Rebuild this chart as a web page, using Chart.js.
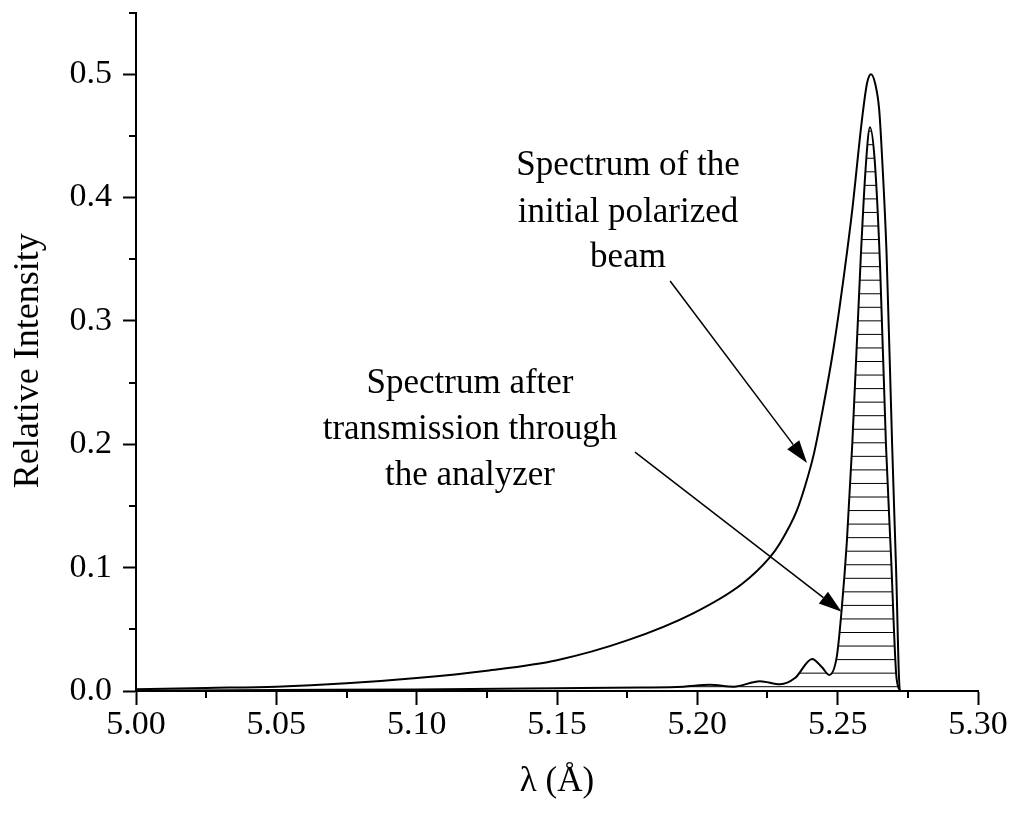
<!DOCTYPE html>
<html>
<head>
<meta charset="utf-8">
<title>Relative Intensity</title>
<script src="https://cdn.jsdelivr.net/npm/chart.js@4.4.0/dist/chart.umd.min.js"></script>
<style>
  html, body { margin: 0; padding: 0; background: #fff; }
  #wrap { width: 1015px; height: 817px; }
</style>
</head>
<body>
<div id="wrap"><canvas id="chart" width="1015" height="817"></canvas></div>
<script>
// values: wavelength (Å) -> relative intensity
const beamLambda = [5.000, 5.025, 5.050, 5.075, 5.100, 5.125, 5.150, 5.175, 5.1985, 5.216, 5.2259, 5.2295, 5.2354,
  5.2385, 5.2415, 5.245, 5.2484, 5.2523, 5.2552, 5.2586, 5.2605, 5.2619, 5.2634, 5.2648, 5.2660, 5.2674, 5.2694,
  5.2708, 5.2722, 5.275, 5.300];
const beamIntensity = [0.0015, 0.0025, 0.0035, 0.0062, 0.0105, 0.0165, 0.025, 0.041, 0.063, 0.087, 0.1086, 0.12, 0.146,
  0.167, 0.192, 0.232, 0.276, 0.338, 0.39, 0.462, 0.493, 0.50, 0.492, 0.471, 0.425, 0.356, 0.20,
  0.10, 0.0, 0.0, 0.0];

const analyzerLambda = [5.000, 5.050, 5.100, 5.150, 5.180, 5.195, 5.2045, 5.213, 5.2223, 5.2295, 5.2348, 5.2409,
  5.2445, 5.247, 5.2497, 5.2515, 5.2533, 5.2552, 5.2582, 5.2600, 5.2615, 5.2632, 5.2651, 5.2672, 5.2690, 5.2708,
  5.2718, 5.2725, 5.300];
const analyzerIntensity = [0.0003, 0.0008, 0.0013, 0.0022, 0.0028, 0.0035, 0.005, 0.0035, 0.008, 0.0055, 0.0105, 0.026,
  0.019, 0.013, 0.028, 0.068, 0.122, 0.20, 0.35, 0.425, 0.457, 0.43, 0.345, 0.20, 0.11, 0.015,
  0.002, 0.0, 0.0];

const xTickValues = [5.00, 5.05, 5.10, 5.15, 5.20, 5.25, 5.30];
const xMinorTicks = [5.025, 5.075, 5.125, 5.175, 5.225, 5.275];
const yTickValues = [0.0, 0.1, 0.2, 0.3, 0.4, 0.5];
const yMinorTicks = [0.05, 0.15, 0.25, 0.35, 0.45, 0.55];

const beamNote = ['Spectrum of the', 'initial polarized', 'beam'];
const analyzerNote = ['Spectrum after', 'transmission through', 'the analyzer'];

const SERIF = '"Liberation Serif", "Times New Roman", serif';

// where the notes and their arrows sit, in data units
const notes = [
  { lines: beamNote, x: 5.1753, y: [0.4182, 0.3801, 0.3436], from: [5.1903, 0.3323], to: [5.2391, 0.1848] },
  { lines: analyzerNote, x: 5.1190, y: [0.2415, 0.2042, 0.1669], from: [5.1778, 0.1937], to: [5.2514, 0.0643] }
];

const toPoints = (xs, ys) => xs.map((x, i) => ({ x, y: ys[i] }));

// horizontal hatching under the transmitted spectrum
const hatch = (() => {
  const c = document.createElement('canvas');
  c.width = 8; c.height = 271;
  const g = c.getContext('2d');
  g.strokeStyle = '#000';
  g.lineWidth = 1;
  for (let i = 0; i < 20; i++) {
    const y = 9.2 + 13.55 * i;
    g.beginPath(); g.moveTo(0, y); g.lineTo(8, y); g.stroke();
  }
  return g.createPattern(c, 'repeat');
})();

const extras = {
  id: 'extras',
  afterDraw(chart) {
    const { ctx, scales: { x, y } } = chart;
    ctx.save();
    ctx.strokeStyle = '#000';
    ctx.fillStyle = '#000';

    // minor ticks
    ctx.lineWidth = 2;
    xMinorTicks.forEach(v => {
      const px = Math.round(x.getPixelForValue(v));
      ctx.beginPath(); ctx.moveTo(px, y.bottom); ctx.lineTo(px, y.bottom + 7); ctx.stroke();
    });
    yMinorTicks.forEach(v => {
      const py = Math.round(y.getPixelForValue(v));
      ctx.beginPath(); ctx.moveTo(x.left, py); ctx.lineTo(x.left - 7, py); ctx.stroke();
    });

    // notes + arrows
    ctx.font = '35px ' + SERIF;
    ctx.textAlign = 'center';
    ctx.textBaseline = 'alphabetic';
    notes.forEach(n => {
      const cx = x.getPixelForValue(n.x);
      n.lines.forEach((t, i) => ctx.fillText(t, cx, y.getPixelForValue(n.y[i])));

      const x0 = x.getPixelForValue(n.from[0]), y0 = y.getPixelForValue(n.from[1]);
      const x1 = x.getPixelForValue(n.to[0]), y1 = y.getPixelForValue(n.to[1]);
      const a = Math.atan2(y1 - y0, x1 - x0);
      const len = 23, half = 7.5;
      const bx = x1 - len * Math.cos(a), by = y1 - len * Math.sin(a);
      ctx.lineWidth = 1.5;
      ctx.beginPath(); ctx.moveTo(x0, y0); ctx.lineTo(bx, by); ctx.stroke();
      ctx.beginPath();
      ctx.moveTo(x1, y1);
      ctx.lineTo(bx + half * Math.sin(a), by - half * Math.cos(a));
      ctx.lineTo(bx - half * Math.sin(a), by + half * Math.cos(a));
      ctx.closePath();
      ctx.fill();
    });
    ctx.restore();
  }
};

new Chart(document.getElementById('chart'), {
  type: 'line',
  data: {
    datasets: [
      {
        label: 'Initial polarized beam',
        data: toPoints(beamLambda, beamIntensity),
        borderColor: '#000',
        borderWidth: 2,
        pointRadius: 0,
        fill: false,
        cubicInterpolationMode: 'monotone'
      },
      {
        label: 'After analyzer',
        data: toPoints(analyzerLambda, analyzerIntensity),
        borderColor: '#000',
        borderWidth: 2,
        pointRadius: 0,
        fill: 'origin',
        backgroundColor: hatch,
        cubicInterpolationMode: 'monotone'
      }
    ]
  },
  options: {
    responsive: false,
    animation: false,
    events: [],
    layout: { padding: { top: 12.5, right: 37, left: 0, bottom: 0 } },
    plugins: {
      legend: { display: false },
      tooltip: { enabled: false }
    },
    scales: {
      x: {
        type: 'linear',
        min: 5.0,
        max: 5.3,
        afterBuildTicks: s => { s.ticks = xTickValues.map(v => ({ value: v })); },
        afterFit: s => { s.height = 126; s.paddingLeft = 0; s.paddingRight = 0; },
        ticks: {
          autoSkip: false,
          maxRotation: 0,
          padding: 0,
          color: '#000',
          font: { family: SERIF, size: 34 },
          callback: v => v.toFixed(2)
        },
        grid: { drawOnChartArea: false, tickLength: 14, tickWidth: 2, tickColor: '#000' },
        border: { display: true, color: '#000', width: 2 },
        title: {
          display: true,
          text: 'λ (Å)',
          color: '#000',
          font: { family: SERIF, size: 35 },
          padding: { top: 0, bottom: 14 }
        }
      },
      y: {
        min: 0,
        max: 0.55,
        afterBuildTicks: s => { s.ticks = yTickValues.map(v => ({ value: v })); },
        afterFit: s => { s.width = 136; s.paddingTop = 0; s.paddingBottom = 0; },
        ticks: {
          autoSkip: false,
          padding: 11,
          color: '#000',
          font: { family: SERIF, size: 34 },
          callback: v => v.toFixed(1)
        },
        grid: { drawOnChartArea: false, tickLength: 13, tickWidth: 2, tickColor: '#000' },
        border: { display: true, color: '#000', width: 2 },
        title: {
          display: true,
          text: 'Relative Intensity  ',
          color: '#000',
          font: { family: SERIF, size: 36 },
          padding: { top: 7, bottom: 0 }
        }
      }
    }
  },
  plugins: [extras]
});
</script>
</body>
</html>
